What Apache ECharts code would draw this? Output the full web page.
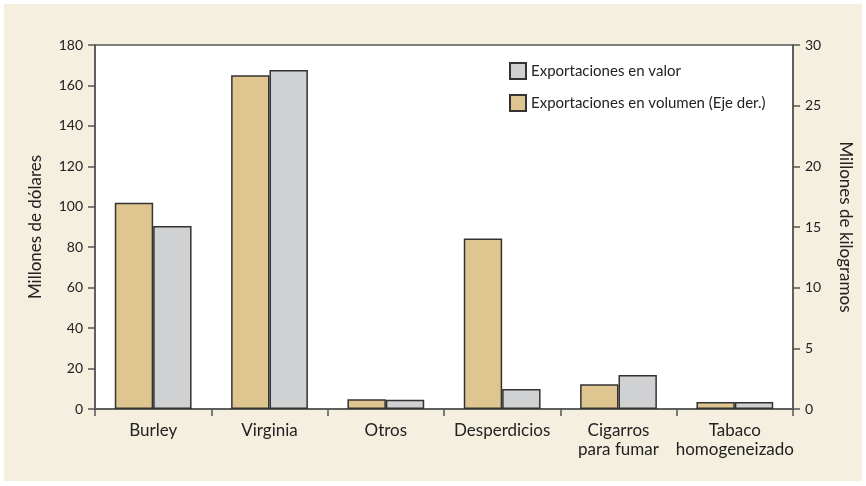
<!DOCTYPE html>
<html>
<head>
<meta charset="utf-8">
<script src="https://cdn.jsdelivr.net/npm/echarts@6/dist/echarts.min.js"></script>
<style>
  html, body { margin: 0; padding: 0; background: #fff; }
  #chart { width: 866px; height: 486px; }
</style>
</head>
<body>
<div id="chart"></div>
<script>
// datos
const categorias = ['Burley', 'Virginia', 'Otros', 'Desperdicios', 'Cigarros\npara fumar', 'Tabaco\nhomogeneizado'];
const volumen = [17, 27.5, 0.8, 14.05, 2.05, 0.58];   // millones de kg (eje der.)
const valor = [90.5, 167.6, 4.6, 9.9, 16.8, 3.5];      // millones de dolares
const ticksIzq = { min: 0, max: 180, interval: 20 };
const ticksDer = { min: 0, max: 30, interval: 5 };

const FONT = 'Lato';
const ejeColor = '#555';

const chart = echarts.init(document.getElementById('chart'));
chart.setOption({
  backgroundColor: '#fff',
  textStyle: { fontFamily: FONT },
  graphic: [{
    type: 'rect',
    z: -10,
    shape: { x: 4, y: 4, width: 858, height: 477 },
    style: { fill: '#f5efe0' }
  }],
  grid: {
    left: 95, right: 73, top: 45, bottom: 77,
    show: true,
    backgroundColor: '#fff',
    borderColor: ejeColor,
    borderWidth: 1.5
  },
  legend: {
    orient: 'vertical',
    left: 504,
    top: 57,
    itemWidth: 16,
    itemHeight: 16,
    itemGap: 14,
    icon: 'rect',
    data: ['Exportaciones en valor', 'Exportaciones en volumen (Eje der.)'],
    textStyle: { fontFamily: FONT, fontSize: 15, color: '#222' }
  },
  xAxis: {
    type: 'category',
    data: categorias,
    axisLine: { lineStyle: { color: ejeColor, width: 1.5 } },
    axisTick: { show: true, length: 7, alignWithLabel: false, lineStyle: { color: ejeColor, width: 1.5 } },
    axisLabel: { fontFamily: FONT, fontSize: 17, color: '#222', margin: 12, lineHeight: 19, interval: 0 }
  },
  yAxis: [{
    type: 'value',
    min: ticksIzq.min, max: ticksIzq.max, interval: ticksIzq.interval,
    name: 'Millones de dólares',
    nameLocation: 'middle',
    nameRotate: 90,
    nameGap: 51,
    nameTextStyle: { fontFamily: FONT, fontSize: 17, color: '#222' },
    splitLine: { show: false },
    axisLine: { show: true, lineStyle: { color: ejeColor, width: 1.5 } },
    axisTick: { show: true, length: 7, lineStyle: { color: ejeColor, width: 1.5 } },
    axisLabel: { fontFamily: FONT, fontSize: 14, color: '#222', margin: 12 }
  }, {
    type: 'value',
    position: 'right',
    min: ticksDer.min, max: ticksDer.max, interval: ticksDer.interval,
    name: 'Millones de kilogramos',
    nameLocation: 'middle',
    nameRotate: -90,
    nameGap: 44,
    nameTextStyle: { fontFamily: FONT, fontSize: 17, color: '#222' },
    splitLine: { show: false },
    axisLine: { show: true, lineStyle: { color: ejeColor, width: 1.5 } },
    axisTick: { show: true, length: 7, lineStyle: { color: ejeColor, width: 1.5 } },
    axisLabel: { fontFamily: FONT, fontSize: 14, color: '#222', margin: 12 }
  }],
  series: [{
    name: 'Exportaciones en volumen (Eje der.)',
    type: 'bar',
    yAxisIndex: 1,
    barGap: '0%',
    barCategoryGap: '34%',
    itemStyle: { color: '#dfc690', borderColor: '#333', borderWidth: 1.5 },
    data: volumen
  }, {
    name: 'Exportaciones en valor',
    type: 'bar',
    yAxisIndex: 0,
    barGap: '0%',
    barCategoryGap: '34%',
    itemStyle: { color: '#d0d1d3', borderColor: '#333', borderWidth: 1.5 },
    data: valor
  }]
});
</script>
</body>
</html>
